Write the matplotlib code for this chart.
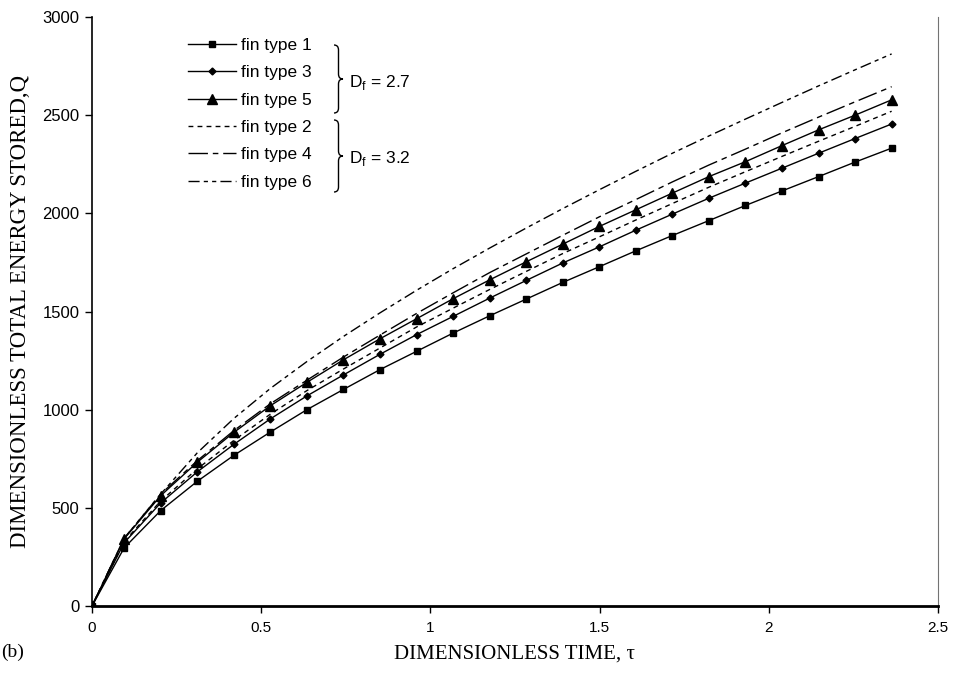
import matplotlib
matplotlib.use("Agg")
import matplotlib.pyplot as plt
from matplotlib.path import Path
from matplotlib.patches import PathPatch

# dimensionless time
tau = [0, 0.095, 0.203, 0.311, 0.419, 0.527, 0.635, 0.743, 0.851, 0.959, 1.067, 1.175,
       1.283, 1.391, 1.499, 1.607, 1.715, 1.823, 1.931, 2.039, 2.147, 2.255, 2.363]

# D_f = 2.7
fin1 = [0, 296, 486, 635, 767, 886, 1000, 1103, 1204, 1297, 1390, 1478,
        1563, 1648, 1728, 1809, 1887, 1963, 2040, 2114, 2187, 2261, 2332]
fin3 = [0, 322, 525, 683, 823, 953, 1070, 1177, 1282, 1382, 1475, 1568,
        1658, 1747, 1829, 1914, 1996, 2077, 2154, 2230, 2306, 2381, 2455]
fin5 = [0, 342, 562, 732, 884, 1020, 1139, 1254, 1361, 1463, 1565, 1661,
        1753, 1843, 1933, 2018, 2103, 2187, 2263, 2345, 2425, 2500, 2578]
# D_f = 3.2
fin2 = [0, 328, 535, 698, 843, 977, 1097, 1207, 1314, 1421, 1517, 1612,
        1704, 1795, 1880, 1966, 2050, 2133, 2212, 2290, 2367, 2443, 2520]
fin4 = [0, 345, 570, 740, 893, 1030, 1150, 1268, 1380, 1490, 1595, 1698,
        1793, 1888, 1982, 2070, 2160, 2246, 2327, 2410, 2490, 2568, 2645]
fin6 = [0, 345, 570, 780, 955, 1108, 1245, 1373, 1493, 1608, 1718, 1823,
        1925, 2024, 2120, 2214, 2306, 2394, 2480, 2565, 2649, 2731, 2812]

W, H = 956, 675
fig = plt.figure(figsize=(W / 100, H / 100), dpi=100)
ax = fig.add_axes([92 / W, (H - 606) / H, (938 - 92) / W, (606 - 17) / H])

lw = 1.0
h1, = ax.plot(tau, fin1, color='black', lw=lw, marker='s', ms=5, label='fin type 1')
h3, = ax.plot(tau, fin3, color='black', lw=lw, marker='D', ms=3.5, label='fin type 3')
h5, = ax.plot(tau, fin5, color='black', lw=lw, marker='^', ms=6.5, label='fin type 5')
h2, = ax.plot(tau, fin2, color='black', lw=lw, ls=(0, (3.5, 3)), label='fin type 2')
h4, = ax.plot(tau, fin4, color='black', lw=lw, ls=(0, (14, 3.5, 4, 3.5)), label='fin type 4')
h6, = ax.plot(tau, fin6, color='black', lw=lw, ls=(0, (8, 3, 3, 3, 3, 3)), label='fin type 6')

ax.set_xlim(0, 2.5)
ax.set_ylim(0, 3000)
ax.set_xticks([0, 0.5, 1, 1.5, 2, 2.5])
ax.set_xticklabels(['0', '0.5', '1', '1.5', '2', '2.5'])
ax.set_yticks(range(0, 3001, 500))

for lab in ax.get_xticklabels():
    lab.set_fontfamily('Liberation Sans')
    lab.set_fontsize(11)
for lab in ax.get_yticklabels():
    lab.set_fontfamily('Liberation Sans')
    lab.set_fontsize(12)
ax.tick_params(direction='out', length=5, width=1)
ax.tick_params(axis='y', pad=4)
ax.tick_params(axis='x', pad=6)

ax.spines['top'].set_visible(False)
ax.spines['right'].set_color('0.45')
ax.spines['left'].set_linewidth(1.2)
ax.spines['bottom'].set_linewidth(2.0)

ax.set_xlabel('DIMENSIONLESS TIME, τ', family='Liberation Serif', size=15, labelpad=7)
ax.set_ylabel('DIMENSIONLESS TOTAL ENERGY STORED,Q', family='Liberation Serif', size=16.5, labelpad=8)
fig.text(1 / W, 1 - 652 / H, '(b)', family='Liberation Serif', size=14, va='center', ha='left')

leg = ax.legend([h1, h3, h5, h2, h4, h6],
                ['fin type 1', 'fin type 3', 'fin type 5', 'fin type 2', 'fin type 4', 'fin type 6'],
                loc='upper left', bbox_to_anchor=((188 - 92) / 846, (606 - 38) / 589),
                frameon=False, prop=dict(family='Liberation Sans', size=12.5),
                handlelength=2.75, handletextpad=0.28, labelspacing=0.7, borderpad=0, borderaxespad=0)


def brace(x0, y_top, y_bot, width=9):
    # curly brace opening to the left, drawn in figure pixel coords (y down)
    ym = (y_top + y_bot) / 2
    xm = x0 + width * 0.5
    xt = x0 + width
    c = 5
    pts = [(x0, y_top), (xm, y_top), (xm, y_top + c),
           (xm, ym - c), (xm, ym), (xt, ym),
           (xm, ym), (xm, ym + c),
           (xm, y_bot - c), (xm, y_bot), (x0, y_bot)]
    codes = [Path.MOVETO, Path.CURVE3, Path.CURVE3,
             Path.LINETO, Path.CURVE3, Path.CURVE3,
             Path.CURVE3, Path.CURVE3,
             Path.LINETO, Path.CURVE3, Path.CURVE3]
    verts = [(x / W, 1 - y / H) for x, y in pts]
    fig.patches.append(PathPatch(Path(verts, codes), transform=fig.transFigure,
                                 fill=False, lw=1.0, color='black'))


brace(334, 45, 113)
brace(334, 120, 192)
fig.text(349 / W, 1 - 82 / H, r'D$_\mathregular{f}$ = 2.7', family='Liberation Sans', size=12.5, va='center')
fig.text(349 / W, 1 - 158 / H, r'D$_\mathregular{f}$ = 3.2', family='Liberation Sans', size=12.5, va='center')

fig.savefig('out.png', dpi=100)
